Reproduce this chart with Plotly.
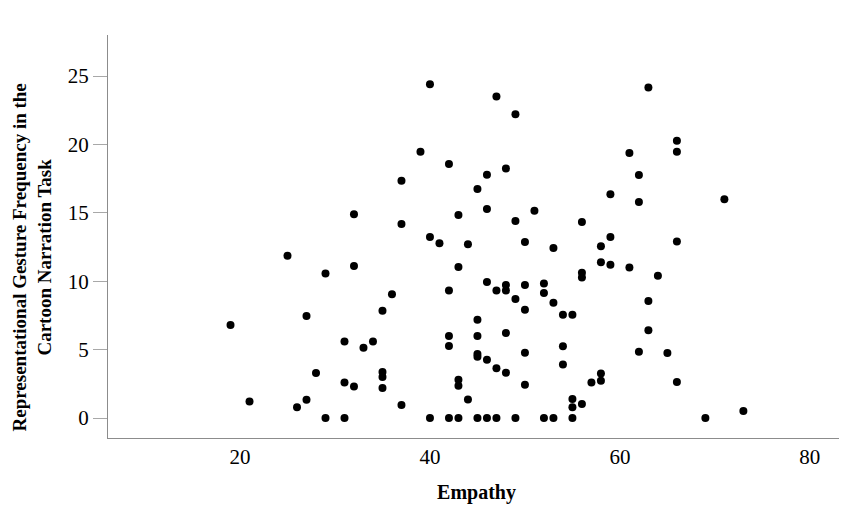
import plotly.graph_objects as go

empathy = [19, 21, 25, 26, 27, 27, 28, 29, 29, 31, 31, 31, 32, 32, 32, 33, 34, 35, 35, 35, 35, 36,
           37, 37, 37, 39, 40, 40, 40, 41, 42, 42, 42, 42, 42, 43, 43, 43, 43, 43, 44, 44,
           45, 45, 45, 45, 45, 45, 46, 46, 46, 46, 46, 47, 47, 47, 47, 48, 48, 48, 48, 48,
           49, 49, 49, 49, 50, 50, 50, 50, 50, 51, 52, 52, 52, 53, 53, 53, 54, 54, 54,
           55, 55, 55, 55, 56, 56, 56, 56, 57, 58, 58, 58, 58, 59, 59, 59, 61, 61,
           62, 62, 62, 63, 63, 63, 64, 65, 66, 66, 66, 66, 69, 71, 73]
gesture = [6.8, 1.2, 11.86, 0.78, 7.46, 1.34, 3.29, 10.57, 0, 5.6, 2.6, 0, 14.9, 11.11, 2.3, 5.14, 5.6,
           7.85, 3.36, 3.0, 2.2, 9.04,
           17.35, 14.18, 0.95, 19.47, 24.4, 13.23, 0, 12.77, 18.57, 9.33, 5.99, 5.26, 0,
           14.84, 11.04, 2.8, 2.36, 0, 12.7, 1.36,
           16.74, 7.19, 5.99, 4.68, 4.48, 0, 17.79, 15.28, 9.94, 4.26, 0, 23.5, 9.33, 3.63, 0,
           18.25, 9.72, 9.33, 6.21, 3.31,
           22.2, 14.4, 8.7, 0, 12.87, 9.72, 7.92, 4.77, 2.44, 15.16, 9.84, 9.14, 0,
           12.43, 8.43, 0, 7.55, 5.24, 3.92,
           7.55, 1.39, 0.78, 0, 14.33, 10.62, 10.28, 1.02, 2.6, 12.55, 11.38, 3.26, 2.73,
           16.35, 13.23, 11.2, 19.37, 11.0,
           17.76, 15.79, 4.85, 24.17, 8.55, 6.41, 10.4, 4.75, 20.27, 19.47, 12.9, 2.63,
           0, 16.0, 0.51]

x_ticks = [20, 40, 60, 80]
y_ticks = [0, 5, 10, 15, 20, 25]
y_title = "<b>Representational Gesture Frequency in the<br>Cartoon Narration Task</b>"

fig = go.Figure()
fig.add_trace(go.Scatter(
    x=empathy, y=gesture, mode="markers",
    marker=dict(color="black", size=8, line=dict(width=0)),
    showlegend=False,
))

font = "Liberation Serif, Times New Roman, serif"
fig.update_layout(
    width=839, height=507,
    margin=dict(l=100, r=2, t=27, b=77, autoexpand=False),
    paper_bgcolor="white", plot_bgcolor="white",
    font=dict(family=font, size=16, color="black"),
    xaxis=dict(
        range=[6.1, 83.7], tickvals=x_ticks, ticks="", showgrid=False, zeroline=False,
        showline=True, linecolor="#8c8c8c", linewidth=1,
        tickfont=dict(family=font, size=21, color="black"),
        title=dict(text="<b>Empathy</b>", font=dict(family=font, size=20), standoff=16),
        automargin=False,
    ),
    yaxis=dict(
        range=[-1.46, 28.0], tickvals=y_ticks, ticks="outside", ticklen=14,
        tickcolor="#a8a8a8", tickwidth=1, showgrid=False, zeroline=False,
        showline=True, linecolor="#8c8c8c", linewidth=1,
        tickfont=dict(family=font, size=21, color="black"),
        automargin=False,
    ),
    annotations=[dict(
        text=y_title, textangle=-90, xref="paper", yref="paper",
        x=-0.1025, y=0.449, xanchor="center", yanchor="middle", showarrow=False,
        font=dict(family=font, size=19, color="black"), align="center",
    )],
)
fig.write_html("out.html")
